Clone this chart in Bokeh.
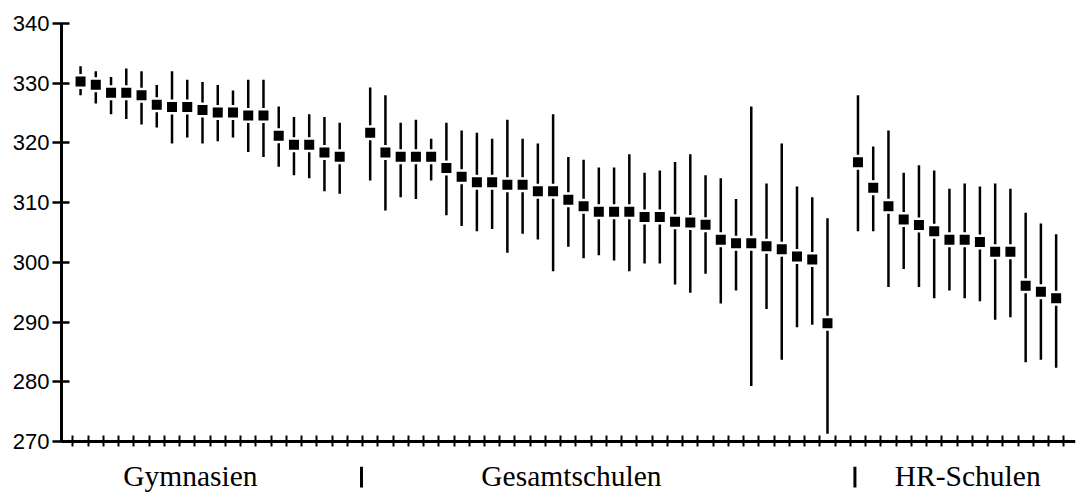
from bokeh.plotting import figure
from bokeh.models import FixedTicker, Range1d, ColumnDataSource
from bokeh.core.properties import value
from bokeh.embed import file_html
from bokeh.resources import INLINE

# ---- data ----
groups = ["Gymnasien", "Gesamtschulen", "HR-Schulen"]

gym_mean = [330.3, 329.75, 328.4, 328.4, 328.0, 326.4, 326.0, 326.0, 325.5,
            325.1, 325.1, 324.6, 324.6, 321.2, 319.7, 319.7, 318.4, 317.7]
gym_hi = [332.85, 332.0, 331.05, 332.45, 332.0, 329.7, 332.0, 330.6, 330.2,
          329.7, 328.8, 330.6, 330.6, 326.1, 324.35, 324.8, 324.35, 323.4]
gym_lo = [328.0, 326.6, 324.8, 324.0, 323.1, 322.6, 319.9, 320.9, 319.9,
          320.3, 320.9, 318.5, 317.65, 316.0, 314.6, 314.1, 311.9, 311.5]

ges_mean = [321.7, 318.4, 317.7, 317.7, 317.7, 315.8, 314.35, 313.4, 313.4,
            313.0, 313.0, 311.9, 311.9, 310.5, 309.4, 308.5, 308.5, 308.5,
            307.6, 307.6, 306.8, 306.7, 306.3, 303.8, 303.2, 303.2, 302.7,
            302.2, 301.0, 300.5, 289.8]
ges_hi = [329.3, 328.0, 323.4, 323.9, 320.7, 323.4, 322.1, 321.7, 320.7,
          323.9, 320.7, 319.9, 324.8, 317.65, 317.2, 315.9, 315.9, 318.1,
          315.0, 315.4, 316.8, 318.1, 314.6, 314.1, 310.6, 326.1, 313.2,
          319.9, 312.7, 310.9, 307.4]
ges_lo = [313.7, 308.7, 310.9, 310.6, 313.7, 307.9, 306.1, 305.2, 305.6,
          301.6, 304.8, 303.85, 298.5, 302.6, 300.7, 301.2, 300.3, 298.5,
          299.8, 299.8, 296.3, 294.9, 298.1, 293.1, 295.3, 279.3, 292.2,
          283.7, 289.15, 289.55, 271.3]

hr_mean = [316.75, 312.5, 309.4, 307.2, 306.25, 305.2, 303.8, 303.8, 303.4,
           301.8, 301.8, 296.1, 295.1, 294.0]
hr_hi = [328.0, 319.4, 322.1, 315.0, 316.25, 315.4, 312.35, 313.2, 312.7,
         313.2, 312.35, 308.3, 306.5, 304.7]
hr_lo = [305.2, 305.2, 295.9, 298.9, 295.9, 294.0, 295.3, 294.0, 293.5,
         290.4, 290.8, 283.3, 283.7, 282.35]

y_ticks = [270, 280, 290, 300, 310, 320, 330, 340]
y_min, y_max = 270, 340

# ---- build positions: consecutive slots, one empty slot between groups ----
xs, means, lows, highs = [], [], [], []
pos = 0
for gi, (m, lo, hi) in enumerate([(gym_mean, gym_lo, gym_hi),
                                  (ges_mean, ges_lo, ges_hi),
                                  (hr_mean, hr_lo, hr_hi)]):
    for a, b, c in zip(m, lo, hi):
        xs.append(pos)
        means.append(a)
        lows.append(b)
        highs.append(c)
        pos += 1
    if gi < 2:
        pos += 1          # empty slot between school types
n_slots = pos

src = ColumnDataSource(dict(x=xs, mean=means, lo=lows, hi=highs))

p = figure(width=1078, height=498,
           x_range=Range1d(-1.25, n_slots + 0.27),
           y_range=Range1d(260.8, y_max),
           x_axis_location="above",
           output_backend="svg", toolbar_location=None,
           min_border_left=61, min_border_right=3,
           min_border_top=23, min_border_bottom=2)
p.outline_line_color = None
p.grid.visible = False
p.background_fill_color = "white"
p.border_fill_color = "white"

# y axis (line only spans the value range)
ya = p.yaxis[0]
ya.bounds = (y_min, y_max)
ya.ticker = FixedTicker(ticks=y_ticks)
ya.major_label_text_font = "Liberation Sans"
ya.major_label_text_font_size = "22px"
ya.major_label_text_color = "black"
ya.axis_line_width = 3
ya.axis_line_color = "black"
ya.major_tick_line_width = 2.5
ya.major_tick_line_color = "black"
ya.major_tick_out = 9
ya.major_tick_in = 8
ya.minor_tick_line_color = None
ya.major_label_standoff = 3

# x axis: drawn at y = 270 inside the frame, ticks between slots, no labels
xticks = [i - 0.5 for i in range(n_slots + 1)]
xa = p.xaxis[0]
xa.fixed_location = y_min
xa.ticker = FixedTicker(ticks=xticks)
xa.major_label_overrides = {t: "" for t in xticks}
xa.axis_line_width = 3
xa.axis_line_color = "black"
xa.major_tick_line_width = 2
xa.major_tick_line_color = "black"
xa.major_tick_out = 6
xa.major_tick_in = 5
xa.minor_tick_line_color = None

# error bars
p.segment(x0="x", y0="lo", x1="x", y1="hi", source=src,
          line_width=2.5, line_color="black")
# white halo then black box
p.scatter("x", "mean", source=src, marker="square", size=15,
          fill_color="white", line_color=None)
p.scatter("x", "mean", source=src, marker="square", size=10,
          fill_color="black", line_color=None)

# group labels below the axis
label_x = [7.2, 32.2, 58.2]
p.text(x=label_x, y=[262.34] * 3, text=groups, y_offset=-11,
       text_font=value("Liberation Serif"), text_font_size="29.5px",
       text_align="center", text_baseline="alphabetic", text_color="black")
# separators between the groups
sep_x = [18.43, 50.8]
p.segment(x0=sep_x, y0=[262.3] * 2, x1=sep_x, y1=[265.8] * 2,
          line_width=3, line_color="black")

open("out.html", "w").write(file_html(p, INLINE))
